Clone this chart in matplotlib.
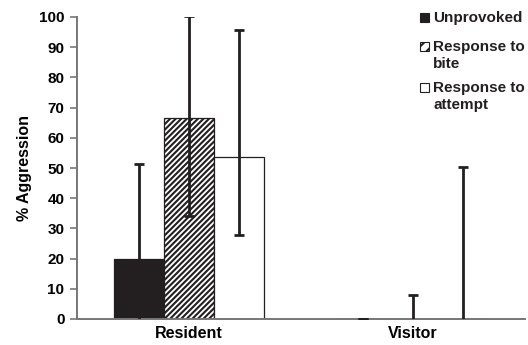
import numpy as np
import matplotlib
matplotlib.use('Agg')
import matplotlib.pyplot as plt
from matplotlib.patches import Rectangle

plt.rcParams['font.family'] = ['Liberation Sans', 'DejaVu Sans']
plt.rcParams['font.weight'] = 'bold'
plt.rcParams['hatch.linewidth'] = 1.5

groups = ['Resident', 'Visitor']
series = ['Unprovoked', 'Response to\nbite', 'Response to\nattempt']
values = [[20, 0], [66.7, 0], [53.6, 0]]
err_low = [[31.3, 0], [32.7, 7.8], [25.7, 50.2]]
err_high = [[31.3, 0], [33.5, 7.8], [42.2, 50.2]]
yticks = [0, 10, 20, 30, 40, 50, 60, 70, 80, 90, 100]

W, H = 528, 345
fig = plt.figure(figsize=(W / 100, H / 100), dpi=100)
ax = fig.add_axes([77 / W, 26 / H, 448 / W, 302 / H])

x = np.arange(len(groups))
w = 0.223
dark = '#231f20'
faces = [dark, 'white', 'white']
hatches = [None, '//////', None]
for i in range(3):
    pos = x + (i - 1) * w
    ax.bar(pos, values[i], w, color=faces[i], edgecolor=dark, linewidth=0.9,
           hatch=hatches[i], zorder=2)
    ax.errorbar(pos, values[i], yerr=[err_low[i], err_high[i]], fmt='none',
                ecolor=dark, elinewidth=2, capsize=3.8, capthick=2, zorder=3)

ax.set_xlim(-0.5, 1.5)
ax.set_ylim(0, 100)
ax.set_xticks(x)
ax.set_xticklabels(groups, fontsize=11.5, fontweight='bold')
ax.set_yticks(yticks)
ax.set_yticklabels([str(t) for t in yticks], fontsize=11, fontweight='bold')
ax.set_ylabel('% Aggression', fontsize=11.5, fontweight='bold', labelpad=5)
ax.tick_params(axis='x', length=0, pad=5)
ax.tick_params(axis='y', length=5, width=1.2, color='#777777', pad=4)
for s in ['top', 'right']:
    ax.spines[s].set_visible(False)
for s in ['left', 'bottom']:
    ax.spines[s].set_color('#777777')
    ax.spines[s].set_linewidth(1.4)

# legend drawn by hand so the box lines up with the first line of text
baselines = [22, 51, 92]
line_step = 17
for i, lab in enumerate(series):
    yb = 1 - baselines[i] / H
    fig.patches.append(Rectangle((420 / W, yb), 9 / W, 9 / H, transform=fig.transFigure,
                                 facecolor=faces[i], edgecolor=dark, linewidth=0.8,
                                 hatch='///' if hatches[i] else None))
    for k, line in enumerate(lab.split('\n')):
        fig.text(433 / W, yb - k * line_step / H, line, fontsize=11, fontweight='bold',
                 va='baseline', ha='left', color=dark)

fig.savefig('out.png', dpi=100)
